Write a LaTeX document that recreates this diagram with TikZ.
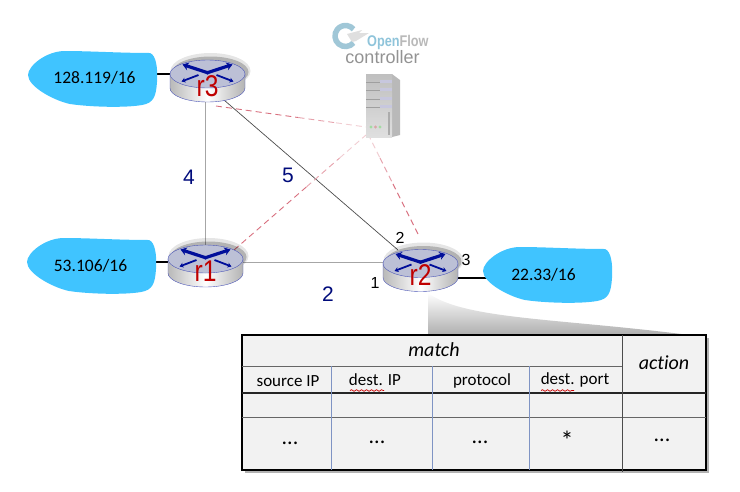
\documentclass[tikz,border=0pt]{standalone}
\usepackage{fontspec}
\setmainfont{Carlito}[Ligatures=NoCommon]
\newfontfamily\arialfont{Liberation Sans}
\newfontfamily\logofont{Liberation Sans}[FakeStretch=0.82]
\usetikzlibrary{arrows.meta,backgrounds,calc,decorations.pathmorphing}
\definecolor{skyblob}{HTML}{40C4FF}
\definecolor{navyx}{HTML}{000E9A}
\definecolor{tablegrey}{HTML}{F2F2F2}
\definecolor{colblue}{HTML}{7F94C4}
\definecolor{routertop}{HTML}{BCC0D6}
\definecolor{ctlred}{HTML}{D8707F}

% blue patch behind an address, shifted to its place
\newcommand{\blob}[2]{
	\fill [skyblob, shift={(#1,#2)}] (28,75) .. controls (28,66) and (46,51) .. (65,51)
		.. controls (90,51) and (120,53) .. (150,53)
		.. controls (156,55) and (158,68) .. (157,82)
		.. controls (156,96) and (154,103) .. (142,105)
		.. controls (125,108) and (90,107) .. (70,104)
		.. controls (52,100) and (28,86) .. (28,75) -- cycle;
}
% router drawn round its centre, name on top
\newcommand{\router}[3]{
	\begin{scope}[shift={(#2,#3)}]
		\fill [black, opacity=0.10] (3,-10) ellipse (40 and 18);
		\fill [black, opacity=0.22] (3,-9) ellipse (38 and 15.5);
		\path [draw=navyx!70, thin, left color=gray!55, right color=gray!60, middle color=white]
			(-37.5,-7) -- (-37.5,7) arc [start angle=180, end angle=0, x radius=37.5, y radius=14]
			-- (37.5,-7) -- cycle;
		\filldraw [draw=navyx!70, thin, fill=routertop] (0,-7) ellipse (37.5 and 14);
		\draw [routerx] (1,-8) -- (-25,-16.5);
		\draw [routerx] (-1,-8) -- (25,-16.5);
		\draw [routerxlow] (-9,-6) -- (-26,0.5);
		\draw [routerxlow] (9,-6) -- (26,0.5);
	\end{scope}
	\node [routerbox, label={[routertext]center:#1}] (#1) at (#2,#3) {};
}

\begin{document}
\begin{tikzpicture}[x=1pt,y=-1pt]
	\tikzstyle{routerbox} = [minimum width=75, minimum height=42, inner sep=0, outer sep=0]
	\tikzstyle{routertext} = [text=red!75!black, font=\logofont\fontsize{30}{30}\selectfont, yshift=-5, inner sep=0]
	\tikzstyle{routerx} = [-{Stealth[length=6,width=8]}, navyx, line width=3.2]
	\tikzstyle{routerxlow} = [-{Stealth[length=4,width=5]}, navyx, line width=1.8]
	\tikzstyle{addr} = [font=\fontsize{17.5}{20}\selectfont, inner sep=0]
	\tikzstyle{link} = [gray!70, line width=0.9]
	\tikzstyle{uplink} = [black, line width=2.4]
	\tikzstyle{ctl} = [line width=0.9, dash pattern=on 6 off 4]
	\tikzstyle{cost} = [navyx!80!black, font=\arialfont\fontsize{21}{21}\selectfont, inner sep=0]
	\tikzstyle{port} = [font=\arialfont\fontsize{16}{16}\selectfont, inner sep=0]
	\tikzstyle{head} = [font=\itshape\fontsize{20}{20}\selectfont, inner sep=0]
	\tikzstyle{cell} = [font=\fontsize{17}{18}\selectfont, inner sep=0]
	\tikzstyle{dots} = [font=\fontsize{22}{22}\selectfont, inner sep=0]
	\tikzstyle{squiggle} = [red!80!black, line width=0.7, decorate, decoration={snake, amplitude=0.8, segment length=5}]

	\useasboundingbox (0,0) rectangle (740,491);

	\blob{0}{0}
	\blob{-1}{187}
	\blob{455}{196}
	\node [addr] (c3) at (94.5,78) {128.119/16};
	\node [addr] (c1) at (90.5,266) {53.106/16};
	\node [addr] (c2) at (543.5,275) {22.33/16};

	% zoom wedge from r2 to the table
	\shade [top color=white, bottom color=gray!65] (428,293) .. controls (465,320) and (560,318) .. (697,336) -- (428,336) -- cycle;

	\router{r3}{207.5}{81}
	\router{r1}{205.5}{266}
	\router{r2}{420.5}{270.5}

	% logo
	\draw [cyan!45!gray!60, line width=5.5] (345.5,36) +(40:10.5) arc [start angle=40, end angle=320, radius=10.5];
	\fill [gray!25] (347,34) -- (362,30) -- (359,33) -- (369,33) -- (356,41) -- (352,42) -- cycle;
	\node [inner sep=0, anchor=base west, font=\logofont\bfseries\fontsize{15.5}{16}\selectfont] (logo) at (367,46) {\textcolor{cyan!55!gray!65}{Open}\textcolor{gray!55}{Flow}};
	\node [inner sep=0, font=\arialfont\fontsize{18}{18}\selectfont, text=gray!85] (ctlname) at (382.5,57) {controller};

	% server
	\node [minimum width=34, minimum height=63, inner sep=0] (srv) at (383,105.5) {};
	\fill [gray!55] (392,74) -- (400,80) -- (400,135) -- (392,137) -- cycle;
	\shade [top color=gray!50, bottom color=gray!25] (366,74) rectangle (392,137);
	\foreach \y in {82,90,99,107} {
		\draw [gray!75, line width=0.7] (366,\y) -- (392,\y);
		\fill [blue!25!gray!35] (380,\y-2) rectangle (392,\y+1);
	}
	\draw [gray!65, line width=1.2] (389,112) -- (389,135);
	\fill [green!45!gray!50] (371,127) circle (1.6);
	\fill [red!40!gray!50] (375.5,127) circle (1.6);
	\fill [green!45!gray!50] (380,127) circle (1.6);

	% table
	\fill [gray!60] (245,338) rectangle (709,473);
	\node [draw=black, fill=tablegrey, line width=2.4, minimum width=464, minimum height=135, inner sep=0, outer sep=0] (tbl) at (474,402.5) {};
	\draw [gray!80!black, line width=0.8] (242,366) -- (622,366);
	\draw [black!85, line width=1.6] (242,393) -- (706,393);
	\draw [gray!80!black, line width=0.8] (242,417.5) -- (706,417.5);
	\foreach \x in {331,432,529}
		\draw [colblue, line width=0.8] (\x,366) -- (\x,470);
	\draw [black!70, line width=0.9] (622,335) -- (622,472);

	\node [head] (match) at (434,350) {match};
	\node [head] (action) at (664,363) {action};
	\node [cell] (srcip) at (288,381) {source IP};
	\node [cell] (dstip) at (375,380) {dest. IP};
	\node [cell] (proto) at (482,381) {protocol};
	\node [cell] (dstport) at (575,380) {dest. port};
	\draw [squiggle] (350,390.5) -- (384,390.5);
	\draw [squiggle] (541,390.5) -- (574,390.5);
	\node [dots] (d1) at (290,443) {...};
	\node [dots] (d2) at (377,442) {...};
	\node [dots] (d3) at (480,442) {...};
	\node [dots, font=\fontsize{26}{26}\selectfont] (d4) at (567,440) {*};
	\node [dots] (d5) at (662,440) {...};

	% labels
	\node [cost] (l4) at (189,177) {4};
	\node [cost] (l5) at (288,175) {5};
	\node [cost] (l2) at (328,294) {2};
	\node [port] (p1) at (375,283) {1};
	\node [port] (p2) at (400,238) {2};
	\node [port] (p3) at (466,260) {3};

	\coordinate (s3) at (216,106);
	\coordinate (s1) at (234,250);
	\coordinate (s2) at (418,234);
	\coordinate (t3) at (366,127);
	\coordinate (t1) at (366,135);
	\coordinate (t2) at (370,138);
	\coordinate (d3a) at (224,100);
	\coordinate (d2a) at (398,250);

	\begin{scope}[on background layer]
		\draw [link] (r1.north) -- (r1.north |- r3.south);
		\draw [link] ([yshift=4]r1.east) -- ([yshift=4]r1.east -| r2.west);
		\draw [black!70, line width=0.7] (d3a) -- (d2a);
		\draw [uplink] ([yshift=4]c3.east) -- ([yshift=4]c3.east -| r3.west);
		\draw [uplink] ([yshift=4]c1.east) -- ([yshift=4]c1.east -| r1.west);
		\draw [uplink] ([yshift=-3]c2.east) -- ([yshift=-3]c2.east -| r2.east);
		\foreach \a/\b in {s3/t3, s1/t1, s2/t2} {
			\draw [ctl, ctlred] (\a) -- ($(\a)!0.55!(\b)$);
			\draw [ctl, ctlred!65] ($(\a)!0.55!(\b)$) -- ($(\a)!0.8!(\b)$);
			\draw [ctl, ctlred!35] ($(\a)!0.8!(\b)$) -- (\b);
		}
	\end{scope}
\end{tikzpicture}
\end{document}
